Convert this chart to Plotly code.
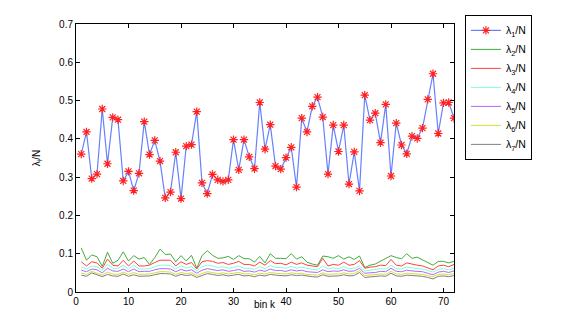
import plotly.graph_objects as go

bins = list(range(1, 73))

lam1 = [0.360, 0.418, 0.296, 0.308, 0.478, 0.335, 0.456, 0.450, 0.290, 0.315,
        0.265, 0.310, 0.445, 0.359, 0.396, 0.342, 0.246, 0.261, 0.365, 0.244,
        0.381, 0.385, 0.471, 0.285, 0.257, 0.307, 0.293, 0.289, 0.293, 0.398,
        0.319, 0.398, 0.353, 0.322, 0.495, 0.373, 0.437, 0.329, 0.321, 0.351,
        0.378, 0.274, 0.454, 0.418, 0.485, 0.509, 0.457, 0.308, 0.436, 0.367,
        0.436, 0.282, 0.366, 0.264, 0.514, 0.449, 0.467, 0.390, 0.490, 0.303,
        0.441, 0.384, 0.361, 0.407, 0.401, 0.428, 0.503, 0.570, 0.414, 0.494,
        0.495, 0.454]

lam2 = [0.115, 0.083, 0.097, 0.092, 0.067, 0.104, 0.075, 0.083, 0.105, 0.081,
        0.095, 0.086, 0.090, 0.072, 0.090, 0.112, 0.098, 0.099, 0.079, 0.095,
        0.081, 0.096, 0.062, 0.095, 0.108, 0.096, 0.088, 0.089, 0.093, 0.085,
        0.095, 0.087, 0.087, 0.078, 0.093, 0.076, 0.100, 0.088, 0.088, 0.087,
        0.100, 0.086, 0.092, 0.078, 0.073, 0.070, 0.094, 0.092, 0.088, 0.095,
        0.086, 0.092, 0.085, 0.094, 0.064, 0.070, 0.073, 0.081, 0.088, 0.095,
        0.090, 0.087, 0.100, 0.088, 0.091, 0.084, 0.075, 0.070, 0.080, 0.080,
        0.076, 0.080]

lam3 = [0.079, 0.068, 0.079, 0.076, 0.062, 0.086, 0.070, 0.068, 0.083, 0.068,
        0.081, 0.068, 0.068, 0.070, 0.077, 0.083, 0.083, 0.083, 0.068, 0.079,
        0.072, 0.077, 0.060, 0.079, 0.082, 0.080, 0.075, 0.077, 0.072, 0.075,
        0.080, 0.072, 0.072, 0.068, 0.078, 0.070, 0.082, 0.074, 0.075, 0.071,
        0.078, 0.072, 0.076, 0.070, 0.068, 0.066, 0.088, 0.068, 0.072, 0.070,
        0.078, 0.070, 0.072, 0.082, 0.062, 0.065, 0.066, 0.070, 0.069, 0.085,
        0.070, 0.068, 0.076, 0.072, 0.070, 0.068, 0.062, 0.058, 0.068, 0.070,
        0.066, 0.072]

lam4 = [0.066, 0.060, 0.068, 0.066, 0.056, 0.072, 0.062, 0.062, 0.070, 0.060,
        0.070, 0.060, 0.060, 0.061, 0.066, 0.070, 0.070, 0.069, 0.060, 0.068,
        0.063, 0.066, 0.055, 0.066, 0.070, 0.068, 0.064, 0.066, 0.062, 0.064,
        0.068, 0.062, 0.062, 0.059, 0.066, 0.061, 0.069, 0.064, 0.064, 0.062,
        0.067, 0.062, 0.065, 0.061, 0.059, 0.058, 0.068, 0.060, 0.063, 0.061,
        0.066, 0.061, 0.062, 0.068, 0.055, 0.057, 0.058, 0.061, 0.060, 0.070,
        0.061, 0.060, 0.065, 0.062, 0.061, 0.060, 0.055, 0.052, 0.059, 0.061,
        0.058, 0.062]

lam5 = [0.057, 0.053, 0.060, 0.058, 0.050, 0.062, 0.055, 0.054, 0.060, 0.053,
        0.060, 0.053, 0.054, 0.054, 0.058, 0.061, 0.061, 0.060, 0.053, 0.059,
        0.055, 0.058, 0.049, 0.057, 0.061, 0.059, 0.056, 0.058, 0.054, 0.056,
        0.059, 0.054, 0.055, 0.052, 0.057, 0.054, 0.060, 0.056, 0.056, 0.054,
        0.058, 0.055, 0.057, 0.053, 0.052, 0.051, 0.058, 0.053, 0.055, 0.054,
        0.058, 0.054, 0.055, 0.062, 0.049, 0.050, 0.051, 0.054, 0.053, 0.062,
        0.054, 0.053, 0.057, 0.055, 0.054, 0.053, 0.049, 0.045, 0.052, 0.054,
        0.051, 0.055]

lam6 = [0.050, 0.046, 0.054, 0.050, 0.044, 0.052, 0.047, 0.046, 0.052, 0.046,
        0.051, 0.046, 0.047, 0.047, 0.050, 0.053, 0.053, 0.052, 0.046, 0.051,
        0.048, 0.050, 0.043, 0.049, 0.053, 0.051, 0.048, 0.050, 0.047, 0.049,
        0.051, 0.047, 0.048, 0.045, 0.049, 0.047, 0.051, 0.049, 0.048, 0.047,
        0.050, 0.048, 0.049, 0.046, 0.045, 0.044, 0.050, 0.046, 0.047, 0.047,
        0.050, 0.047, 0.048, 0.056, 0.043, 0.044, 0.045, 0.047, 0.046, 0.054,
        0.047, 0.046, 0.049, 0.048, 0.047, 0.046, 0.043, 0.040, 0.046, 0.047,
        0.045, 0.048]

lam7 = [0.044, 0.041, 0.050, 0.045, 0.040, 0.046, 0.042, 0.041, 0.047, 0.041,
        0.045, 0.041, 0.042, 0.042, 0.045, 0.048, 0.048, 0.047, 0.041, 0.046,
        0.043, 0.045, 0.038, 0.044, 0.048, 0.046, 0.043, 0.045, 0.042, 0.044,
        0.046, 0.042, 0.043, 0.040, 0.044, 0.042, 0.046, 0.044, 0.043, 0.042,
        0.045, 0.043, 0.044, 0.041, 0.040, 0.039, 0.045, 0.041, 0.042, 0.042,
        0.045, 0.042, 0.043, 0.051, 0.038, 0.039, 0.040, 0.042, 0.041, 0.049,
        0.042, 0.041, 0.044, 0.043, 0.042, 0.041, 0.038, 0.034, 0.041, 0.042,
        0.040, 0.043]

names = ["λ<sub>%d</sub>/N" % i for i in range(1, 8)]
others = [lam2, lam3, lam4, lam5, lam6, lam7]
colors = ["#3fae3f", "#ff4040", "#80ffd4", "#b366ff", "#d4e033", "#808080"]

fig = go.Figure()

# first eigenvalue: line with red asterisk markers
fig.add_trace(go.Scatter(
    x=bins, y=lam1, name=names[0], mode="lines+markers",
    line=dict(color="#6680ff", width=1.2),
    marker=dict(symbol="asterisk-open", size=7, color="#ff2020",
                line=dict(color="#ff2020", width=1.2)),
))

for name, vals, col in zip(names[1:], others, colors):
    fig.add_trace(go.Scatter(
        x=bins, y=vals, name=name, mode="lines",
        line=dict(color=col, width=1),
    ))

axis_style = dict(
    showline=True, linecolor="black", linewidth=1, mirror="ticks",
    ticks="inside", ticklen=4, tickcolor="black",
    showgrid=False, zeroline=False, automargin=False,
    tickfont=dict(size=10, color="black"),
)

# page body adds an 8px offset, so the figure is 8px smaller than the window
fig.update_layout(
    width=579, height=320,
    margin=dict(l=68, r=133, t=16, b=36, autoexpand=False),
    paper_bgcolor="white", plot_bgcolor="white",
    font=dict(family="Liberation Sans, Arial, sans-serif", size=10, color="black"),
    xaxis=dict(range=[0, 72], dtick=10, **axis_style),
    yaxis=dict(range=[0, 0.7], dtick=0.1, **axis_style,
               title=dict(text="λ<sub>i</sub>/N", font=dict(size=10), standoff=16)),
    legend=dict(
        x=1.029, y=1.034, xanchor="left", yanchor="top",
        bordercolor="black", borderwidth=1, bgcolor="white",
        font=dict(size=10.5), tracegroupgap=0, itemwidth=30,
    ),
)

# x label sits close under the tick labels, as in the original
fig.add_annotation(text="bin k", x=0.5, y=-0.048, xref="paper", yref="paper",
                   xanchor="center", yanchor="middle", showarrow=False,
                   font=dict(size=10))

fig.write_html("out.html")
